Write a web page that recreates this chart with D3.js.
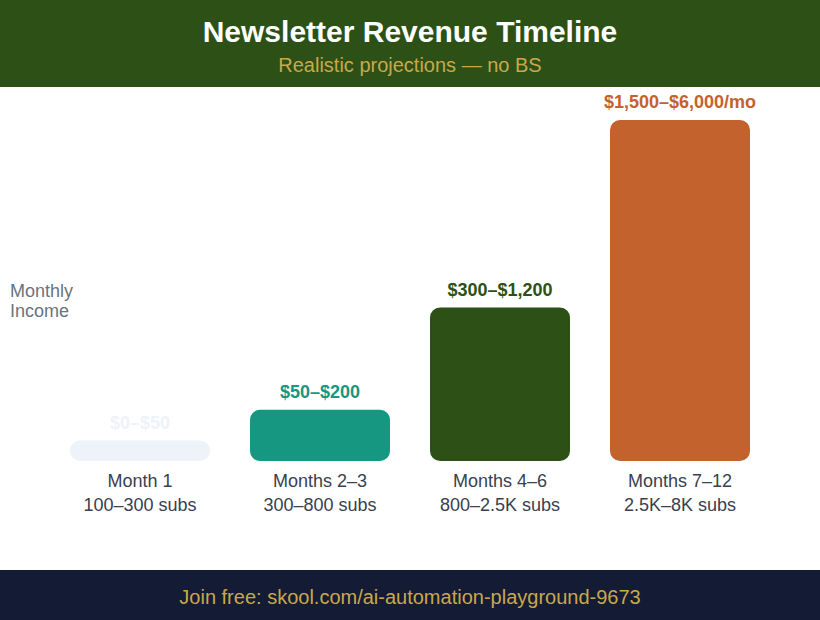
<!DOCTYPE html>
<html>
<head>
<meta charset="utf-8">
<script src="https://cdn.jsdelivr.net/npm/d3@7"></script>
<style>
  body { margin: 0; background: #fff; }
  text { font-family: "Liberation Sans", Arial, sans-serif; }
</style>
</head>
<body>
<div id="chart"></div>
<script>
const ancho = 820
const alto = 620

// datos
const periodos = ["Month 1", "Months 2–3", "Months 4–6", "Months 7–12"]
const suscriptores = ["100–300 subs", "300–800 subs", "800–2.5K subs", "2.5K–8K subs"]
const etiquetas = ["$0–$50", "$50–$200", "$300–$1,200", "$1,500–$6,000/mo"]
const valores = [6, 15, 45, 100]   // altura relativa de cada barra
const colores = ["#eef2f9", "#169782", "#2d5016", "#c4622d"]

const svg = d3.select("#chart").append("svg")
    .attr("width", ancho)
    .attr("height", alto)

// cabecera
svg.append("rect").attr("x", 0).attr("y", 0).attr("width", ancho).attr("height", 87)
    .attr("fill", "#2d5016")
svg.append("text").text("Newsletter Revenue Timeline")
    .attr("x", ancho / 2).attr("y", 42)
    .attr("text-anchor", "middle")
    .attr("font-size", 30).attr("font-weight", "bold").attr("fill", "#fff")
svg.append("text").text("Realistic projections — no BS")
    .attr("x", ancho / 2).attr("y", 72)
    .attr("text-anchor", "middle")
    .attr("font-size", 20).attr("fill", "#c9a84c")

// escalas
const x = d3.scaleBand().domain(periodos).range([50, 770]).paddingInner(2 / 9).paddingOuter(1 / 9)
const y = d3.scaleLinear().domain([0, 100]).range([461, 120])

const grupo = svg.append("g").attr("class", "barras")

grupo.selectAll("rect")
    .data(periodos)
    .join("rect")
    .attr("x", d => x(d))
    .attr("y", (d, i) => y(valores[i]))
    .attr("width", x.bandwidth())
    .attr("height", (d, i) => y(0) - y(valores[i]))
    .attr("rx", 10)
    .attr("fill", (d, i) => colores[i])

grupo.selectAll("text.valor")
    .data(periodos)
    .join("text")
    .attr("class", "valor")
    .text((d, i) => etiquetas[i])
    .attr("x", d => x(d) + x.bandwidth() / 2)
    .attr("y", (d, i) => y(valores[i]) - 12)
    .attr("text-anchor", "middle")
    .attr("font-size", 18).attr("font-weight", "bold")
    .attr("fill", (d, i) => colores[i])

// eje x hecho a mano (dos líneas)
grupo.selectAll("text.periodo")
    .data(periodos)
    .join("text")
    .attr("class", "periodo")
    .text(d => d)
    .attr("x", d => x(d) + x.bandwidth() / 2)
    .attr("y", 487)
    .attr("text-anchor", "middle")
    .attr("font-size", 18).attr("fill", "#374151")

grupo.selectAll("text.subs")
    .data(periodos)
    .join("text")
    .attr("class", "subs")
    .text((d, i) => suscriptores[i])
    .attr("x", d => x(d) + x.bandwidth() / 2)
    .attr("y", 511)
    .attr("text-anchor", "middle")
    .attr("font-size", 18).attr("fill", "#374151")

// etiqueta eje y
svg.append("text").text("Monthly").attr("x", 10).attr("y", 297)
    .attr("font-size", 18).attr("fill", "#6b7280")
svg.append("text").text("Income").attr("x", 10).attr("y", 317)
    .attr("font-size", 18).attr("fill", "#6b7280")

// pie
svg.append("rect").attr("x", 0).attr("y", 570).attr("width", ancho).attr("height", 50)
    .attr("fill", "#141b34")
svg.append("text").text("Join free: skool.com/ai-automation-playground-9673")
    .attr("x", ancho / 2).attr("y", 604)
    .attr("text-anchor", "middle")
    .attr("font-size", 20).attr("fill", "#c9a84c")
</script>
</body>
</html>
